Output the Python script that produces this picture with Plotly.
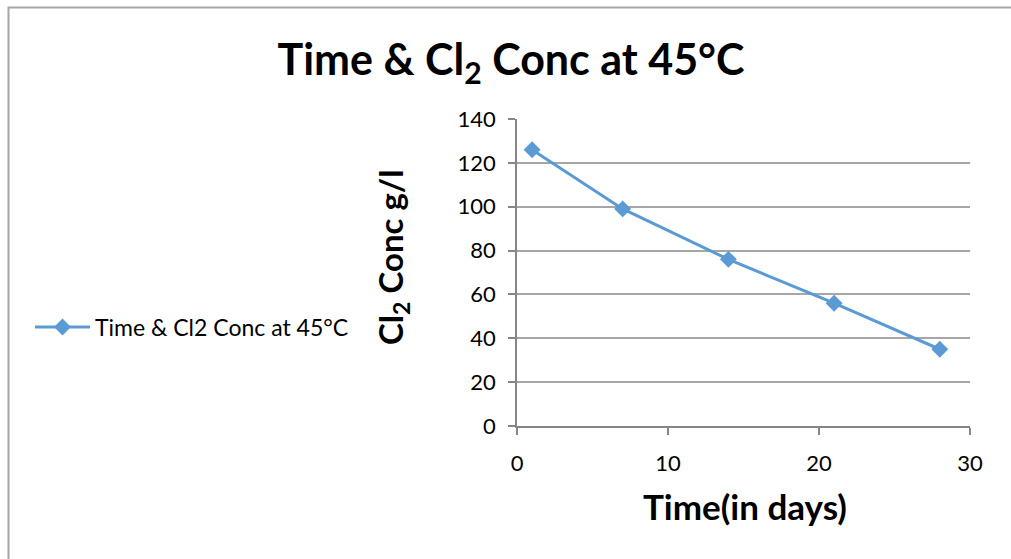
import plotly.graph_objects as go

days = [1, 7, 14, 21, 28]
cl2_conc = [126, 99, 76, 56, 35]
series_name = "Time & Cl2 Conc at 45°C"
title_text = "Time & Cl<sub>2</sub> Conc at 45°C"
x_title = "Time(in days)"
y_title = "Cl<sub>2</sub> Conc g/l"
x_ticks = [0, 10, 20, 30]
y_ticks = [0, 20, 40, 60, 80, 100, 120, 140]

W, H = 1011, 559
L, R, T, B = 517, 41, 119, 133
pw, ph = W - L - R, H - T - B

def px(x):
    return (x - L) / pw

def py(y):
    return (H - B - y) / ph

FONT = "Lato"
blue = "#5B9BD5"
grid = "#A6A6A6"
axis = "#868686"

fig = go.Figure()
fig.add_trace(go.Scatter(
    x=days, y=cl2_conc, name=series_name, mode="lines+markers",
    line=dict(color=blue, width=3),
    marker=dict(symbol="diamond", size=13, color=blue),
    showlegend=True,
))

fig.update_layout(
    width=W, height=H,
    margin=dict(l=L, r=R, t=T, b=B),
    paper_bgcolor="white", plot_bgcolor="white",
    font=dict(family=FONT, color="black", size=22),
    title=dict(text="<b>" + title_text + "</b>", x=511 / W, xanchor="center",
               y=1 - 60 / H, yanchor="middle", yref="container",
               font=dict(family=FONT, size=43, color="black")),
    xaxis=dict(range=[0, 30], tickvals=x_ticks, showgrid=False, zeroline=False,
               showline=True, linecolor=axis, linewidth=1.5,
               ticks="outside", ticklen=7, tickcolor=axis, tickwidth=1.5,
               tickfont=dict(size=22), ticklabelstandoff=10),
    yaxis=dict(range=[0, 140], tickvals=y_ticks, showgrid=True, gridcolor=grid,
               gridwidth=1.5, zeroline=False, showline=True, linecolor=axis,
               linewidth=1.5, ticks="outside", ticklen=7, tickcolor=axis,
               tickwidth=1.5, tickfont=dict(size=22), ticklabelstandoff=8),
    legend=dict(x=px(30), y=py(327), xanchor="left", yanchor="middle",
                font=dict(size=23), bgcolor="rgba(0,0,0,0)", itemwidth=55),
    annotations=[
        dict(text="<b>" + x_title + "</b>", xref="paper", yref="paper",
             x=px(745), y=py(506), xanchor="center", yanchor="middle",
             showarrow=False, font=dict(size=35)),
        dict(text="<b>" + y_title + "</b>", xref="paper", yref="paper",
             x=px(392), y=py(258), xanchor="center", yanchor="middle",
             textangle=-90, showarrow=False, font=dict(size=33)),
    ],
    shapes=[
        dict(type="rect", xref="paper", yref="paper",
             x0=px(8.5), y0=py(600), x1=px(1040), y1=py(7.5),
             line=dict(color="#A6A6A6", width=2), layer="below"),
    ],
)

fig.write_html("out.html")
